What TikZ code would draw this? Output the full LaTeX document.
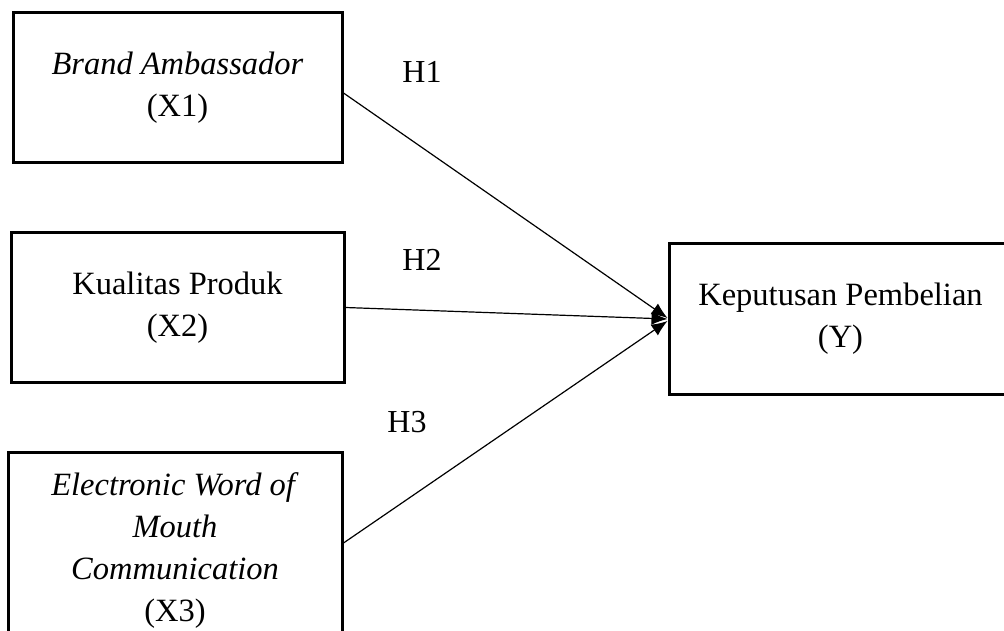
\documentclass[tikz,border=0pt]{standalone}
\usepackage{fontspec}
\setmainfont{Liberation Serif}
\usetikzlibrary{arrows.meta}
\begin{document}
\begin{tikzpicture}[x=1pt,y=-1pt,
  varbox/.style={draw,line width=3pt,rectangle,align=center,inner sep=0pt,
    font=\fontsize{32.5}{42}\selectfont},
  conn/.style={line width=1.2pt,-{Latex[length=16pt,width=13pt]}},
  hlabel/.style={font=\fontsize{32}{42}\selectfont,inner sep=0pt}]
\useasboundingbox (0,0) rectangle (1004,631);
\node[varbox,minimum width=329pt,minimum height=150pt] (b1) at (177.5,88)
  {\textit{Brand Ambassador}\\(X1)};
\node[varbox,minimum width=333pt,minimum height=149pt] (b2) at (177.5,307.5)
  {Kualitas Produk\\(X2)};
\node[varbox,minimum width=334pt,minimum height=198pt] (b3) at (175,551)
  {\textit{Electronic Word of}\\\textit{Mouth}\\\textit{Communication}\\(X3)};
\node[varbox,minimum width=343pt,minimum height=150pt] (by) at (840.5,319)
  {Keputusan Pembelian\\(Y)};
\draw[conn] ([yshift=-5pt]b1.east) -- ([yshift=1pt]by.west);
\draw[conn] (b2.east) -- (by.west);
\draw[conn] ([yshift=8pt]b3.east) -- ([yshift=-2pt]by.west);
\node[hlabel] (h1) at (422,72) {H1};
\node[hlabel] (h2) at (422,260) {H2};
\node[hlabel] (h3) at (407,422) {H3};
\end{tikzpicture}
\end{document}
